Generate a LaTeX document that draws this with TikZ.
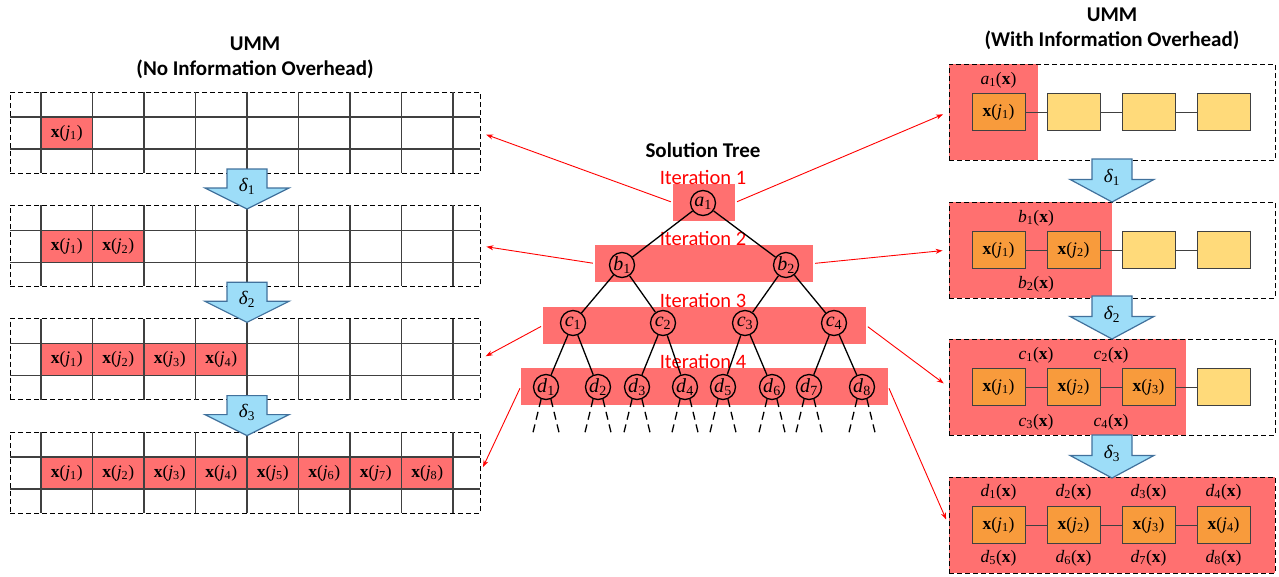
\documentclass[tikz,border=0pt]{standalone}
\usepackage{fontspec}
\setmainfont{Carlito}
\newfontfamily\tms{Liberation Serif}
\usetikzlibrary{arrows.meta}
\definecolor{umred}{RGB}{255,112,112}
\definecolor{umorange}{RGB}{248,155,60}
\definecolor{umyellow}{RGB}{255,218,122}
\definecolor{umblue}{RGB}{157,221,248}
\definecolor{umblueline}{RGB}{65,113,156}
\definecolor{gridgray}{RGB}{64,64,64}
\newcommand\xj[1]{{\tms\textbf{x}(\textit{j}\textsubscript{#1})}}
\newcommand\fx[2]{{\tms\textit{#1}\textsubscript{#2}(\textbf{x})}}
\newcommand\tl[2]{{\tms\textit{#1}\textsubscript{#2}}}
\begin{document}
\begin{tikzpicture}[x=1pt,y=-1pt,
    font=\fontsize{17.5}{20}\selectfont,
    title/.style={font=\fontsize{21}{25}\selectfont\bfseries, align=center},
    gridbox/.style={draw, dash pattern=on 5pt off 3pt, line width=0.9pt, minimum width=470pt, minimum height=81pt, inner sep=0pt},
    redcell/.style={fill=umred, minimum width=51.5pt, minimum height=32pt, inner sep=0pt},
    gridline/.style={gridgray, line width=1.1pt},
    iterband/.style={fill=umred, minimum height=37pt, inner sep=0pt},
    iterlabel/.style={red, inner sep=0pt, font=\fontsize{20.5}{22}\selectfont},
    tnode/.style={circle, draw, line width=1.3pt, minimum size=25pt, inner sep=0pt, font=\fontsize{20}{20}\selectfont},
    tedge/.style={line width=1.3pt},
    leafdash/.style={line width=1.3pt, dash pattern=on 8pt off 5pt},
    memblock/.style={draw, dash pattern=on 5pt off 3pt, line width=0.9pt, minimum width=326pt, minimum height=96pt, inner sep=0pt},
    memused/.style={draw=gridgray, line width=1pt, fill=umorange, minimum width=53pt, minimum height=37pt, inner sep=0pt},
    memfree/.style={memused, fill=umyellow},
    memlink/.style={gridgray, line width=1pt},
    redarrow/.style={red, line width=0.9pt, -{Stealth[length=7pt,width=5pt]}, shorten <=2pt, shorten >=6pt},
    pics/shiftdown/.style={code={
        \draw[umblueline, line width=1.2pt, fill=umblue] (-20,0) -- (20,0) -- (20,19) -- (42,19) -- (0,40) -- (-42,19) -- (-20,19) -- cycle;
        \node[inner sep=0pt, font=\fontsize{19}{20}\selectfont] (-lbl) at (0,17) {\tl{δ}{#1}};
    }}]
  \useasboundingbox (0,0) rectangle (1279,576);

  % left memory: no information overhead
  \node[title] (ltitle) at (255,57.5) {UMM\\(No Information Overhead)};
  \foreach \k/\t/\n in {1/92/1,2/205.3/2,3/318.6/4,4/432/8}{
    \node[gridbox] (L\k) at (245,\t+40.5) {};
    \foreach \i in {1,...,\n}
      \node[redcell] (n\k-\i) at ({15.25+51.5*\i},\t+41) {\xj{\i}};
    \draw[gridline] (10,\t+25) -- (480,\t+25) (10,\t+57) -- (480,\t+57);
    \foreach \i in {0,...,8}
      \draw[gridline] ({41+51.5*\i},\t) -- ({41+51.5*\i},\t+81);
  }
  \pic (sl1) at (247,169) {shiftdown=1};
  \pic (sl2) at (247,282.3) {shiftdown=2};
  \pic (sl3) at (247,395.6) {shiftdown=3};

  % solution tree
  \node[title] (stitle) at (703,150) {Solution Tree};
  \node[iterband, minimum width=62pt] (band1) at (704,202.5) {};
  \node[iterband, minimum width=218pt] (band2) at (704,263.5) {};
  \node[iterband, minimum width=323pt] (band3) at (704.5,325.5) {};
  \node[iterband, minimum width=367pt] (band4) at (704.5,386.5) {};
  \foreach \k/\y in {1/177,2/238,3/300,4/361}
    \node[iterlabel] (it\k) at (703,\y) {Iteration \k};

  \node[tnode] (a1) at (703,203) {\tl{a}{1}};
  \node[tnode] (b1) at (622,265) {\tl{b}{1}};
  \node[tnode] (b2) at (786,265) {\tl{b}{2}};
  \foreach \i/\x in {1/573,2/663,3/745,4/834}
    \node[tnode] (c\i) at (\x,323) {\tl{c}{\i}};
  \foreach \i/\x in {1/546,2/598,3/637,4/685,5/723,6/772,7/809,8/862}
    \node[tnode] (d\i) at (\x,387) {\tl{d}{\i}};

  \draw[tedge] (a1) -- (b1);
  \draw[tedge] (a1) -- (b2);
  \draw[tedge] (b1) -- (c1);
  \draw[tedge] (b1) -- (c2);
  \draw[tedge] (b2) -- (c3);
  \draw[tedge] (b2) -- (c4);
  \foreach \p/\l/\r in {1/1/2,2/3/4,3/5/6,4/7/8}{
    \draw[tedge] (c\p) -- (d\l);
    \draw[tedge] (c\p) -- (d\r);
  }
  \foreach \i in {1,...,8}
    \draw[leafdash] (d\i.-112) -- ++(-9,37) (d\i.-68) -- ++(9,37);

  % right memory: with information overhead
  \node[title] (rtitle) at (1112,28.5) {UMM\\(With Information Overhead)};
  \foreach \k/\c/\w in {1/112/89,2/250/163,3/387/237,4/525/326}{
    \fill[umred] (949,\c-48) rectangle ++(\w,96);
    \node[memblock] (R\k) at (1112,\c) {};
    \foreach \i in {1,...,4}{
      \ifnum\i>\k
        \node[memfree] (w\k-\i) at ({923.5+75*\i},\c) {};
      \else
        \node[memused] (w\k-\i) at ({923.5+75*\i},\c) {\xj{\i}};
      \fi
    }
    \foreach \i/\j in {1/2,2/3,3/4}
      \draw[memlink] (w\k-\i) -- (w\k-\j);
  }
  \node (a1x) at (998.5,80) {\fx{a}{1}};
  \node (b1x) at (1036,218) {\fx{b}{1}};
  \node (b2x) at (1036,284) {\fx{b}{2}};
  \node (c1x) at (1036,355) {\fx{c}{1}};
  \node (c2x) at (1111,355) {\fx{c}{2}};
  \node (c3x) at (1036,422) {\fx{c}{3}};
  \node (c4x) at (1111,422) {\fx{c}{4}};
  \foreach \i in {1,...,4}{
    \node (dx\i) at ({923.5+75*\i},492) {\fx{d}{\i}};
    \pgfmathtruncatemacro\m{\i+4}
    \node (dx\m) at ({923.5+75*\i},558) {\fx{d}{\m}};
  }
  \pic (sr1) at (1112,159) [yscale=1.075] {shiftdown=1};
  \pic (sr2) at (1112,296) [yscale=1.075] {shiftdown=2};
  \pic (sr3) at (1112,435) [yscale=1.075] {shiftdown=3};

  % iterations to memory
  \draw[redarrow] (band1.west) -- (L1.east);
  \draw[redarrow] (band2.west) -- (L2.east);
  \draw[redarrow] (band3.west) -- (L3.east);
  \draw[redarrow] (band4.west) -- (L4.east);
  \draw[redarrow] (band1.east) -- (R1.west);
  \draw[redarrow] (band2.east) -- (R2.west);
  \draw[redarrow] (band3.east) -- (R3.west);
  \draw[redarrow] (band4.east) -- (R4.west);
\end{tikzpicture}
\end{document}
